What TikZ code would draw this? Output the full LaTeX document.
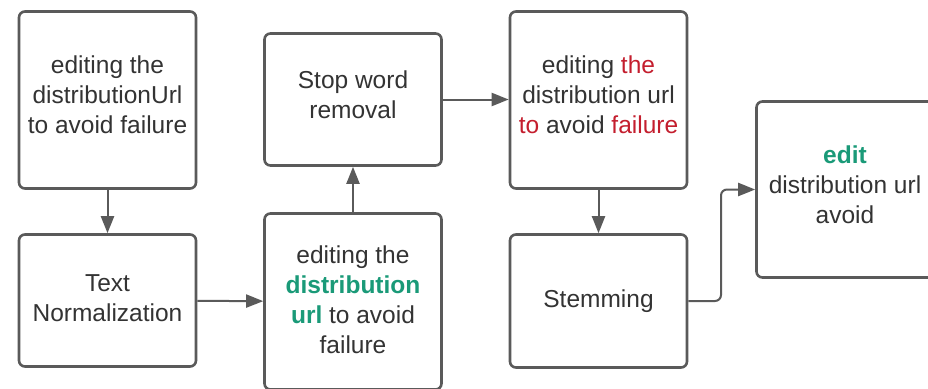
\documentclass[tikz,border=0pt]{standalone}
\usepackage{fontspec}
\setmainfont{Liberation Sans}
\usetikzlibrary{arrows.meta}
\definecolor{edgegray}{HTML}{5A5A5A}
\definecolor{inkdark}{HTML}{333333}
\definecolor{keepgreen}{HTML}{1A9A78}
\definecolor{dropred}{HTML}{C41E2E}
\newcommand{\keep}[1]{\textcolor{keepgreen}{\bfseries #1}}
\newcommand{\drop}[1]{\textcolor{dropred}{#1}}
\begin{document}
\begin{tikzpicture}[x=1pt,y=-1pt,
  stagebox/.style={draw=edgegray, line width=2.6pt, rounded corners=6pt, fill=white,
    align=center, inner sep=0pt, minimum width=177pt, text=inkdark,
    font=\fontsize{24.5}{30}\selectfont},
  lifted/.style={text depth=#1},
  flow/.style={draw=edgegray, line width=2pt, -{Triangle[length=17pt,width=13pt]}}]
\clip (0,0) rectangle (928,388);
\fill[white] (0,0) rectangle (928,388);

% pipeline stages
\node[stagebox, lifted=10pt, minimum height=177pt] (src)  at (107.5,100)   {editing the\\distributionUrl\\to avoid failure};
\node[stagebox, lifted=4pt, minimum height=132pt] (norm) at (107.5,300.5) {Text\\Normalization};
\node[stagebox, lifted=4pt, minimum height=176pt] (normout) at (353,301.5) {editing the\\\keep{distribution}\\\keep{url} to avoid\\failure};
\node[stagebox, lifted=10pt, minimum height=132pt] (stop) at (353,99.5)    {Stop word\\removal};
\node[stagebox, lifted=10pt, minimum height=177pt] (stopout) at (598.5,100) {editing \drop{the}\\distribution url\\\drop{to} avoid \drop{failure}};
\node[stagebox, minimum height=133pt] (stem) at (598.5,301)   {Stemming};
\node[stagebox, lifted=10pt, minimum height=176pt] (result) at (845,189.5) {\keep{edit}\\distribution url\\avoid};

% connectors
\draw[flow] (src) -- (norm);
\draw[flow] (norm) -- (normout);
\draw[flow] (normout) -- (stop);
\draw[flow] (stop) -- (stopout.west |- stop);
\draw[flow] (stopout) -- (stem);
\coordinate (bend) at (721,0);
\draw[flow, rounded corners=6pt] (stem.east) -- (stem.east -| bend) |- (result.west);
\end{tikzpicture}
\end{document}
